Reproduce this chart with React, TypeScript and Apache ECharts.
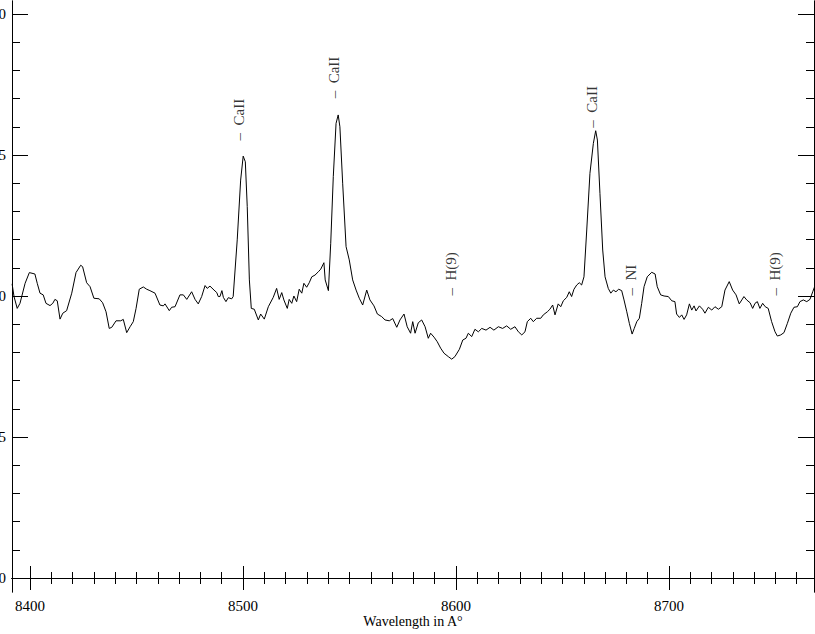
import React, { useEffect, useRef } from "react";
import * as echarts from "echarts";

// Spectrum: [wavelength (Å), normalised flux]
const spectrum: [number, number][] = [
  [8391.6,1.043],[8392.5,0.998],[8394.0,0.956],[8395.3,0.974],[8397.7,1.045],[8399.7,1.083],[8402.3,1.078],[8403.4,1.045],[8404.7,1.010],[8406.2,1.004],
  [8407.5,0.974],[8409.4,0.966],[8410.7,0.974],[8411.7,0.988],[8412.8,0.983],[8414.1,0.918],[8415.4,0.939],[8417.2,0.948],[8419.6,1.010],[8421.6,1.083],
  [8423.8,1.109],[8424.7,1.104],[8426.6,1.047],[8428.2,1.033],[8430.0,0.992],[8432.5,0.990],[8434.1,0.976],[8435.7,0.944],[8437.2,0.885],[8438.4,0.889],
  [8440.4,0.912],[8442.6,0.912],[8443.8,0.917],[8445.4,0.870],[8447.0,0.891],[8448.5,0.909],[8449.8,0.956],[8451.3,1.024],[8453.2,1.032],[8454.8,1.024],
  [8456.3,1.019],[8458.7,1.010],[8461.0,0.968],[8462.6,0.965],[8463.4,0.972],[8465.4,0.948],[8466.5,0.960],[8468.1,0.962],[8470.4,1.004],[8472.0,1.004],
  [8473.6,0.988],[8475.9,1.015],[8477.5,0.988],[8479.0,0.972],[8480.6,0.998],[8482.2,1.037],[8483.2,1.027],[8484.5,1.035],[8486.4,1.021],[8487.7,1.012],
  [8488.4,0.998],[8489.2,0.998],[8490.1,1.019],[8490.8,0.995],[8492.0,0.980],[8493.1,0.994],[8494.7,0.990],[8495.4,0.998],[8497.3,1.199],[8498.9,1.411],
  [8500.1,1.496],[8501.1,1.476],[8502.0,1.317],[8503.0,1.057],[8503.9,0.956],[8505.3,0.953],[8507.2,0.915],[8508.3,0.936],[8510.0,0.918],[8511.9,0.962],
  [8514.2,0.995],[8515.8,1.027],[8517.0,0.988],[8518.2,1.012],[8519.2,0.986],[8520.8,0.956],[8521.7,0.988],[8522.9,0.974],[8523.9,1.000],[8525.2,0.980],
  [8526.4,1.024],[8527.6,1.010],[8528.6,1.045],[8529.9,1.031],[8531.1,1.047],[8532.3,1.068],[8533.8,1.074],[8535.4,1.086],[8536.5,1.095],[8538.0,1.118],
  [8538.6,1.057],[8540.1,1.019],[8541.2,1.187],[8542.4,1.423],[8543.7,1.612],[8544.7,1.642],[8545.5,1.600],[8546.8,1.400],[8548.4,1.175],[8549.9,1.128],
  [8551.5,1.057],[8553.1,1.021],[8554.6,0.992],[8556.2,0.968],[8558.1,1.021],[8559.6,0.986],[8561.5,0.965],[8563.1,0.936],[8565.1,0.927],[8566.7,0.915],
  [8568.7,0.912],[8570.3,0.920],[8572.2,0.889],[8573.7,0.915],[8575.6,0.936],[8577.1,0.891],[8578.7,0.868],[8579.7,0.909],[8580.8,0.868],[8582.3,0.905],
  [8583.9,0.915],[8585.5,0.891],[8587.0,0.850],[8588.1,0.868],[8589.7,0.854],[8591.2,0.838],[8592.8,0.815],[8594.4,0.797],[8596.4,0.785],[8598.0,0.776],
  [8599.5,0.785],[8601.6,0.811],[8603.2,0.844],[8604.7,0.850],[8605.8,0.868],[8607.4,0.856],[8608.9,0.882],[8610.5,0.873],[8612.1,0.885],[8614.1,0.879],
  [8616.0,0.889],[8617.8,0.879],[8619.9,0.891],[8621.9,0.885],[8623.8,0.894],[8625.7,0.882],[8627.7,0.891],[8629.3,0.873],[8630.9,0.862],[8632.4,0.873],
  [8633.5,0.909],[8635.1,0.921],[8636.3,0.909],[8637.9,0.921],[8639.8,0.921],[8641.0,0.933],[8642.9,0.944],[8644.1,0.953],[8645.4,0.968],[8646.5,0.933],
  [8648.0,0.972],[8649.2,0.962],[8650.4,0.983],[8652.0,0.995],[8653.2,1.015],[8654.3,0.998],[8655.4,1.024],[8656.7,1.039],[8657.9,1.047],[8659.0,1.039],
  [8660.1,1.068],[8661.4,1.234],[8662.9,1.435],[8664.5,1.541],[8665.6,1.586],[8666.4,1.553],[8667.6,1.364],[8668.9,1.163],[8670.0,1.068],[8671.5,1.027],
  [8672.7,1.010],[8673.9,1.021],[8675.1,1.015],[8676.4,1.024],[8677.8,1.019],[8678.9,0.986],[8680.2,0.944],[8681.4,0.903],[8682.7,0.865],[8683.7,0.885],
  [8684.9,0.909],[8686.1,0.921],[8687.2,0.974],[8688.3,1.033],[8689.8,1.068],[8691.9,1.084],[8693.5,1.078],[8694.5,1.033],[8696.1,1.004],[8697.7,1.000],
  [8699.7,0.998],[8701.3,0.983],[8702.8,0.980],[8703.6,0.936],[8704.9,0.924],[8706.0,0.933],[8707.1,0.917],[8708.3,0.933],[8709.6,0.972],[8710.7,0.950],
  [8711.8,0.965],[8712.7,0.947],[8714.3,0.965],[8715.8,0.953],[8716.9,0.939],[8718.5,0.960],[8720.1,0.950],[8721.6,0.962],[8723.2,0.953],[8724.8,0.962],
  [8726.3,1.021],[8728.3,1.051],[8729.9,1.021],[8731.5,1.004],[8733.0,0.972],[8734.2,0.986],[8735.2,0.998],[8736.5,0.986],[8738.1,0.976],[8739.3,0.956],
  [8740.4,0.974],[8741.5,0.980],[8742.7,0.956],[8744.0,0.974],[8745.2,0.962],[8746.6,0.956],[8748.2,0.909],[8749.8,0.873],[8750.9,0.858],[8752.5,0.862],
  [8754.0,0.870],[8755.6,0.903],[8757.2,0.939],[8758.7,0.960],[8760.3,0.962],[8761.5,0.980],[8763.1,0.986],[8764.7,0.980],[8766.2,0.988],[8767.5,1.015],
  [8768.4,1.033]
];

// Line identifications
const lineNames = ["CaII", "CaII", "CaII", "H(9)", "NI", "H(9)"];
const lineWavelengths = [8498.2, 8543.2, 8664.0, 8597.7, 8682.5, 8750.2];
const lineMarkFlux = [1.55, 1.699, 1.595, 1.0, 1.0, 1.0];

// Axis ranges and ticks
const xMin = 8391.55;
const xMax = 8768.1;
const yMin = -0.0496;
const yMax = 2.046;
const xMajorTicks = [8400, 8500, 8600, 8700];
const xMinorTicks = [
  8410, 8420, 8430, 8440, 8450, 8460, 8470, 8480, 8490,
  8510, 8520, 8530, 8540, 8550, 8560, 8570, 8580, 8590,
  8610, 8620, 8630, 8640, 8650, 8660, 8670, 8680, 8690,
  8710, 8720, 8730, 8740, 8750, 8760,
];
const yMajorTicks = [0, 0.5, 1.0, 1.5, 2.0];
const yMinorTicks = [
  0.1, 0.2, 0.3, 0.4, 0.6, 0.7, 0.8, 0.9, 1.1, 1.2, 1.3, 1.4, 1.6, 1.7, 1.8, 1.9,
];
const xTitle = "Wavelength in A°";

const FONT = "Liberation Serif";

export default function App() {
  const ref = useRef<HTMLDivElement>(null);
  useEffect(() => {
    if (!ref.current) return;
    const chart = echarts.init(ref.current, undefined, { renderer: "svg" });
    const black = "#000";
    const tickAxisX = (pos: "top" | "bottom", values: number[], len: number, extra: any = {}) => ({
      type: "value",
      position: pos,
      min: xMin,
      max: xMax,
      axisLine: { show: true, lineStyle: { color: black, width: 1 } },
      axisTick: { show: true, inside: true, length: len, customValues: values, lineStyle: { color: black, width: 1 } },
      axisLabel: { show: false },
      splitLine: { show: false },
      ...extra,
    });
    const tickAxisY = (pos: "left" | "right", values: number[], len: number, extra: any = {}) => ({
      type: "value",
      position: pos,
      min: yMin,
      max: yMax,
      axisLine: { show: true, lineStyle: { color: black, width: 1 } },
      axisTick: { show: true, inside: true, length: len, customValues: values, lineStyle: { color: black, width: 1 } },
      axisLabel: { show: false },
      splitLine: { show: false },
      ...extra,
    });
    chart.setOption({
      animation: false,
      backgroundColor: "#fff",
      grid: { left: 12, right: 1, top: 1, bottom: 42, containLabel: false, outerBoundsMode: "none" },
      xAxis: [
        tickAxisX("bottom", xMajorTicks, 12, {
          name: xTitle,
          nameLocation: "middle",
          nameGap: 23,
          nameMoveOverlap: false,
          nameTextStyle: { fontFamily: FONT, fontSize: 14, lineHeight: 12, color: black },
          axisLabel: {
            show: true,
            customValues: xMajorTicks,
            margin: 8,
            fontFamily: FONT,
            fontSize: 15,
            lineHeight: 12,
            color: black,
            formatter: (v: number) => String(Math.round(v)),
          },
        }),
        tickAxisX("bottom", xMinorTicks, 6),
        tickAxisX("top", xMajorTicks, 12),
        tickAxisX("top", xMinorTicks, 6),
      ],
      yAxis: [
        tickAxisY("left", yMajorTicks, 16, {
          axisLabel: {
            show: true,
            customValues: yMajorTicks,
            margin: 6,
            fontFamily: FONT,
            fontSize: 15,
            color: black,
            formatter: (v: number) => v.toFixed(1),
          },
        }),
        tickAxisY("left", yMinorTicks, 8),
        tickAxisY("right", yMajorTicks, 16),
        tickAxisY("right", yMinorTicks, 8),
      ],
      series: [
        {
          type: "line",
          xAxisIndex: 0,
          yAxisIndex: 0,
          data: spectrum,
          showSymbol: false,
          symbol: "none",
          lineStyle: { color: black, width: 1 },
          silent: true,
          clip: true,
        },
        {
          type: "scatter",
          xAxisIndex: 0,
          yAxisIndex: 0,
          symbolSize: 1,
          itemStyle: { color: "rgba(0,0,0,0)" },
          silent: true,
          data: lineWavelengths.map((w, i) => ({ value: [w, lineMarkFlux[i]], name: lineNames[i] })),
          label: {
            show: true,
            position: [0, 0],
            rotate: 90,
            align: "left",
            verticalAlign: "middle",
            fontFamily: FONT,
            fontSize: 15,
            color: black,
            formatter: (p: any) => "–  " + p.name,
          },
        },
      ],
    });
    return () => chart.dispose();
  }, []);
  return (
    <div
      ref={ref}
      style={{ position: "fixed", left: 0, top: 0, width: 815, height: 634, background: "#fff" }}
    />
  );
}
